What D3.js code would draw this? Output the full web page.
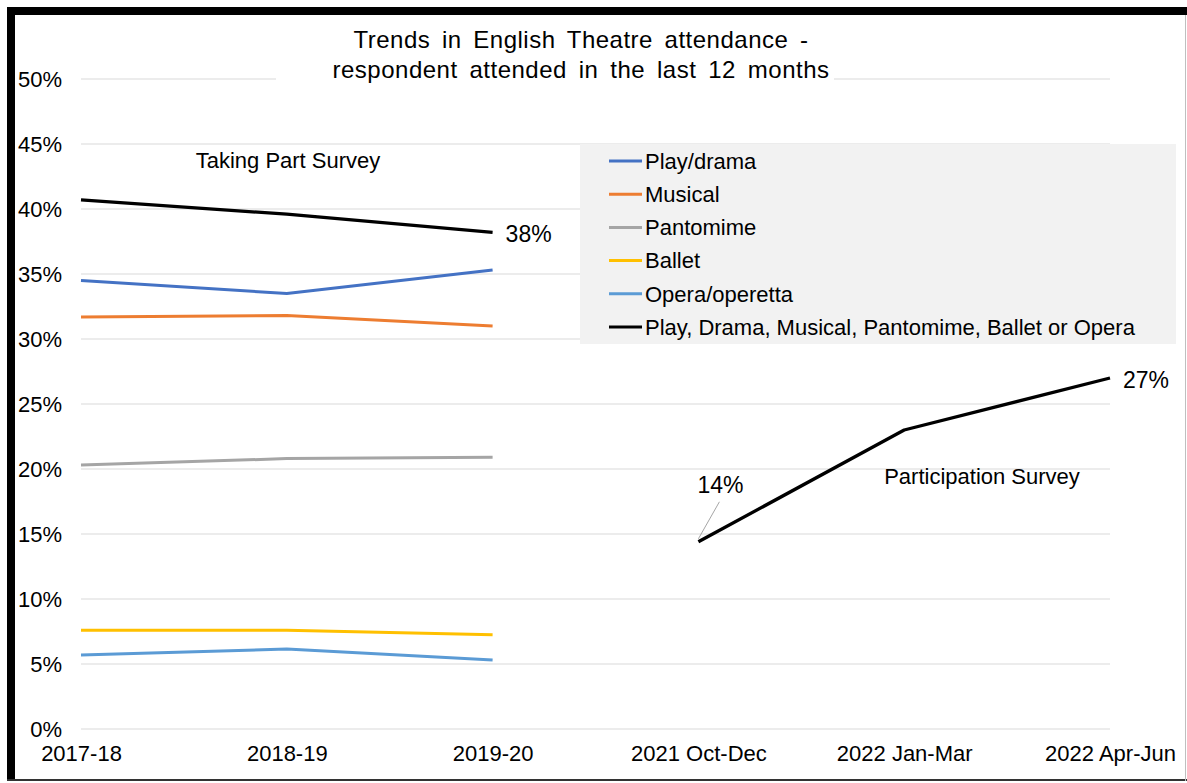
<!DOCTYPE html>
<html>
<head>
<meta charset="utf-8">
<script src="https://cdn.jsdelivr.net/npm/d3@7"></script>
<style>
  html, body { margin: 0; padding: 0; background: #fff; }
  svg { display: block; font-family: "Liberation Sans", Arial, sans-serif; }
</style>
</head>
<body>
<svg id="chart" width="1187" height="783"></svg>
<script>
// Survey periods on the x axis
const categories = ["2017-18", "2018-19", "2019-20", "2021 Oct-Dec", "2022 Jan-Mar", "2022 Apr-Jun"];

// Percent of respondents attending in the last 12 months
const playDrama   = [34.5, 33.5, 35.3, null, null, null];
const musical     = [31.7, 31.8, 31.0, null, null, null];
const pantomime   = [20.3, 20.8, 20.9, null, null, null];
const ballet      = [7.6, 7.6, 7.25, null, null, null];
const opera       = [5.7, 6.15, 5.3, null, null, null];
const anyTakingPart     = [40.7, 39.6, 38.2, null, null, null];
const anyParticipation  = [null, null, null, 14.4, 23.0, 27.0];

const yTicks = [0, 5, 10, 15, 20, 25, 30, 35, 40, 45, 50];

const seriesList = [
  { name: "Play/drama", values: playDrama, color: "#4472C4" },
  { name: "Musical", values: musical, color: "#ED7D31" },
  { name: "Pantomime", values: pantomime, color: "#A5A5A5" },
  { name: "Ballet", values: ballet, color: "#FFC000" },
  { name: "Opera/operetta", values: opera, color: "#5B9BD5" },
  { name: "Play, Drama, Musical, Pantomime, Ballet or Opera", values: anyTakingPart, color: "#000000" }
];

const FONT = 22;
const svg = d3.select("#chart");

const x = d3.scalePoint().domain(categories).range([81, 1110]).padding(0);
const y = d3.scaleLinear().domain([0, 50]).range([729, 79]);

// Gridlines
svg.append("g")
  .selectAll("line")
  .data(yTicks)
  .join("line")
  .attr("x1", 81).attr("x2", 1110)
  .attr("y1", d => y(d)).attr("y2", d => y(d))
  .attr("stroke", "#d9d9d9").attr("stroke-width", 1);

// Y axis labels
const yAxis = d3.axisLeft(y).tickValues(yTicks).tickFormat(d => d + "%").tickSize(0).tickPadding(0);
svg.append("g")
  .attr("transform", "translate(62,0)")
  .call(yAxis)
  .call(g => g.select(".domain").remove())
  .call(g => g.selectAll("text")
    .attr("font-size", FONT).attr("fill", "#000")
    .attr("font-family", "Liberation Sans, Arial, sans-serif"));

// X axis labels
const xAxis = d3.axisBottom(x).tickSize(0).tickPadding(0);
svg.append("g")
  .attr("transform", "translate(0,745)")
  .call(xAxis)
  .call(g => g.select(".domain").remove())
  .call(g => g.selectAll("text")
    .attr("font-size", FONT).attr("fill", "#000")
    .attr("font-family", "Liberation Sans, Arial, sans-serif"));

// Title on a white backing box
const titleG = svg.append("g");
titleG.append("rect").attr("x", 276).attr("y", 22).attr("width", 558).attr("height", 64).attr("fill", "#fff");
const titleLines = [
  { text: "Trends in English Theatre attendance -", y: 48, width: 455 },
  { text: "respondent attended in the last 12 months", y: 78, width: 497 }
];
titleLines.forEach(t => {
  const el = titleG.append("text")
    .attr("x", 581).attr("y", t.y)
    .attr("text-anchor", "middle")
    .attr("font-size", 24).attr("letter-spacing", 0.5).attr("fill", "#000")
    .text(t.text);
  const spaces = t.text.split(" ").length - 1;
  const natural = el.node().getComputedTextLength();
  el.attr("word-spacing", Math.max(0, (t.width - natural) / spaces));
});

// Legend box
const legend = svg.append("g");
legend.append("rect").attr("x", 580).attr("y", 144).attr("width", 596).attr("height", 200).attr("fill", "#f2f2f2");
seriesList.forEach((s, i) => {
  const ly = 161 + i * 33.2;
  legend.append("line")
    .attr("x1", 609).attr("x2", 642).attr("y1", ly).attr("y2", ly)
    .attr("stroke", s.color).attr("stroke-width", 3);
  legend.append("text")
    .attr("x", 645).attr("y", ly).attr("dy", "0.35em")
    .attr("font-size", FONT).attr("fill", "#000")
    .text(s.name);
});

// Series lines
const line = d3.line()
  .defined(d => d != null)
  .x((d, i) => x(categories[i]))
  .y(d => y(d));

const lineData = seriesList.concat([{ name: "participation", values: anyParticipation, color: "#000000" }]);
svg.append("g")
  .selectAll("path")
  .data(lineData)
  .join("path")
  .attr("fill", "none")
  .attr("stroke", d => d.color)
  .attr("stroke-width", d => d.color === "#000000" ? 3.3 : 3)
  .attr("stroke-linejoin", "round")
  .attr("d", d => line(d.values));

// Value labels
const fmt = v => Math.round(v) + "%";
const i38 = 2, i14 = 3, i27 = 5;
svg.append("text")
  .attr("x", x(categories[i38]) + 13).attr("y", y(anyTakingPart[i38]) + 2).attr("dy", "0.35em")
  .attr("font-size", 23).text(fmt(anyTakingPart[i38]));
svg.append("text")
  .attr("x", x(categories[i27]) + 13).attr("y", y(anyParticipation[i27]) + 2).attr("dy", "0.35em")
  .attr("font-size", 23).text(fmt(anyParticipation[i27]));
svg.append("line")
  .attr("x1", x(categories[i14])).attr("y1", y(anyParticipation[i14]) - 3)
  .attr("x2", x(categories[i14]) + 21).attr("y2", y(anyParticipation[i14]) - 40)
  .attr("stroke", "#a6a6a6").attr("stroke-width", 1);
svg.append("text")
  .attr("x", x(categories[i14]) - 1).attr("y", y(anyParticipation[i14]) - 57).attr("dy", "0.35em")
  .attr("font-size", 23).text(fmt(anyParticipation[i14]));

// Survey annotations
svg.append("text").attr("x", 288).attr("y", 160).attr("dy", "0.35em")
  .attr("text-anchor", "middle").attr("font-size", FONT).text("Taking Part Survey");
svg.append("text").attr("x", 982).attr("y", 476).attr("dy", "0.35em")
  .attr("text-anchor", "middle").attr("font-size", FONT).text("Participation Survey");

// Frame
svg.append("line").attr("x1", 7).attr("x2", 1187).attr("y1", 11).attr("y2", 11).attr("stroke", "#000").attr("stroke-width", 8);
svg.append("line").attr("x1", 11).attr("x2", 11).attr("y1", 7).attr("y2", 781).attr("stroke", "#000").attr("stroke-width", 8);
svg.append("line").attr("x1", 7).attr("x2", 1187).attr("y1", 780).attr("y2", 780).attr("stroke", "#333").attr("stroke-width", 2);
svg.append("line").attr("x1", 1185.5).attr("x2", 1185.5).attr("y1", 15).attr("y2", 781).attr("stroke", "#bfbfbf").attr("stroke-width", 1);
</script>
</body>
</html>
